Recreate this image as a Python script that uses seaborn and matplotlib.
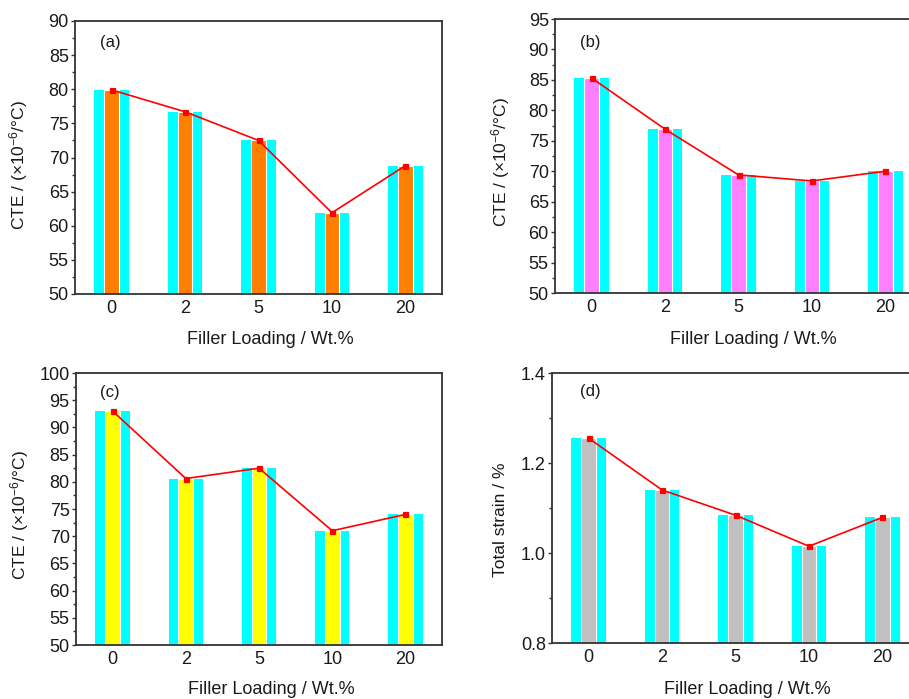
import matplotlib
matplotlib.use("Agg")
import matplotlib.pyplot as plt
from matplotlib.ticker import MultipleLocator
import seaborn as sns
import pandas as pd

# Filler loadings (wt.%) shared by all panels
loadings = ["0", "2", "5", "10", "20"]

# Panel values
cte_a = [79.9, 76.7, 72.5, 61.9, 68.8]
cte_b = [85.3, 76.9, 69.4, 68.4, 70.0]
cte_c = [93.0, 80.6, 82.5, 71.0, 74.0]
strain_d = [1.255, 1.140, 1.084, 1.015, 1.079]

sns.set_style("ticks")
plt.rcParams["font.family"] = ["Liberation Sans", "DejaVu Sans"]
plt.rcParams["mathtext.fontset"] = "custom"
plt.rcParams["mathtext.rm"] = "Liberation Sans"
plt.rcParams["mathtext.it"] = "Liberation Sans:italic"
plt.rcParams["mathtext.bf"] = "Liberation Sans:bold"
plt.rcParams["mathtext.default"] = "regular"

W, H = 909, 699
fig = plt.figure(figsize=(W / 100, H / 100), dpi=100)
fig.patch.set_facecolor("white")

CYAN = "#00FFFF"
SPINE = "#333333"
TXT = "#1a1a1a"
cte_label = "CTE / (×10$^{-6}$/°C)"
x_label = "Filler Loading / Wt.%"


def px_axes(left, top, right, bottom):
    return fig.add_axes([left / W, 1 - bottom / H, (right - left) / W, (bottom - top) / H])


panels = [
    dict(box=(75, 21, 442, 294), vals=cte_a, color="#FF8000", ylim=(50, 90), major=5, minor=2.5,
         ylabel=cte_label, tag="(a)", xl=(0.531, -0.136), yl=(-0.123, 0.473), tagpos=(0.068, 0.923), fmt="{:.0f}"),
    dict(box=(555, 19, 922, 293), vals=cte_b, color="#FF80FF", ylim=(50, 95), major=5, minor=2.5,
         ylabel=cte_label, tag="(b)", xl=(0.540, -0.139), yl=(-0.117, 0.478), tagpos=(0.068, 0.916), fmt="{:.0f}"),
    dict(box=(76, 373, 442, 645), vals=cte_c, color="#FFFF00", ylim=(50, 100), major=5, minor=2.5,
         ylabel=cte_label, tag="(c)", xl=(0.535, -0.132), yl=(-0.123, 0.478), tagpos=(0.066, 0.930), fmt="{:.0f}"),
    dict(box=(552, 373, 919, 643), vals=strain_d, color="#C0C0C0", ylim=(0.8, 1.4), major=0.2, minor=0.1,
         ylabel="Total strain / %", tag="(d)", xl=(0.531, -0.141), yl=(-0.120, 0.456), tagpos=(0.076, 0.930), fmt="{:.1f}"),
]

for p in panels:
    ax = px_axes(*p["box"])
    df = pd.DataFrame({"loading": loadings, "value": p["vals"]})

    # wide cyan bar behind a narrow coloured core
    sns.barplot(data=df, x="loading", y="value", order=loadings, width=0.47, color=CYAN,
                saturation=1, linewidth=0, errorbar=None, ax=ax, zorder=1)
    sns.barplot(data=df, x="loading", y="value", order=loadings, width=0.2, color=p["color"],
                saturation=1, edgecolor="white", linewidth=0.8, errorbar=None, ax=ax, zorder=2)
    # red trend line with square markers at the bar tops
    sns.pointplot(data=df, x="loading", y="value", order=loadings, color="#FF0000", markers="s",
                  markersize=3.6, linewidth=1.2, errorbar=None, ax=ax)
    for coll in ax.collections:
        coll.set_zorder(4)
    for ln in ax.lines:
        ln.set_zorder(3)

    ax.set_xlim(-0.5, 4.5)
    ax.set_ylim(*p["ylim"])
    ax.yaxis.set_major_locator(MultipleLocator(p["major"]))
    ax.yaxis.set_minor_locator(MultipleLocator(p["minor"]))
    ax.set_yticklabels([p["fmt"].format(t) for t in ax.get_yticks()])

    for s in ax.spines.values():
        s.set_visible(True)
        s.set_color(SPINE)
        s.set_linewidth(1.3)

    ax.tick_params(axis="x", length=0, pad=4, labelsize=13, labelcolor=TXT)
    ax.tick_params(axis="y", which="major", direction="out", length=3, width=1, color=SPINE,
                   pad=1.5, labelsize=13, labelcolor=TXT)
    ax.tick_params(axis="y", which="minor", direction="out", length=2.2, width=1, color=SPINE)

    ax.set_xlabel(x_label, fontsize=13, color=TXT)
    ax.xaxis.set_label_coords(*p["xl"])
    ax.set_ylabel(p["ylabel"], fontsize=12.5, color=TXT)
    ax.yaxis.set_label_coords(*p["yl"])
    ax.text(p["tagpos"][0], p["tagpos"][1], p["tag"], transform=ax.transAxes, fontsize=12,
            ha="left", va="center", color=TXT)
    ax.grid(False)

fig.savefig("out.png", dpi=100, facecolor="white")
